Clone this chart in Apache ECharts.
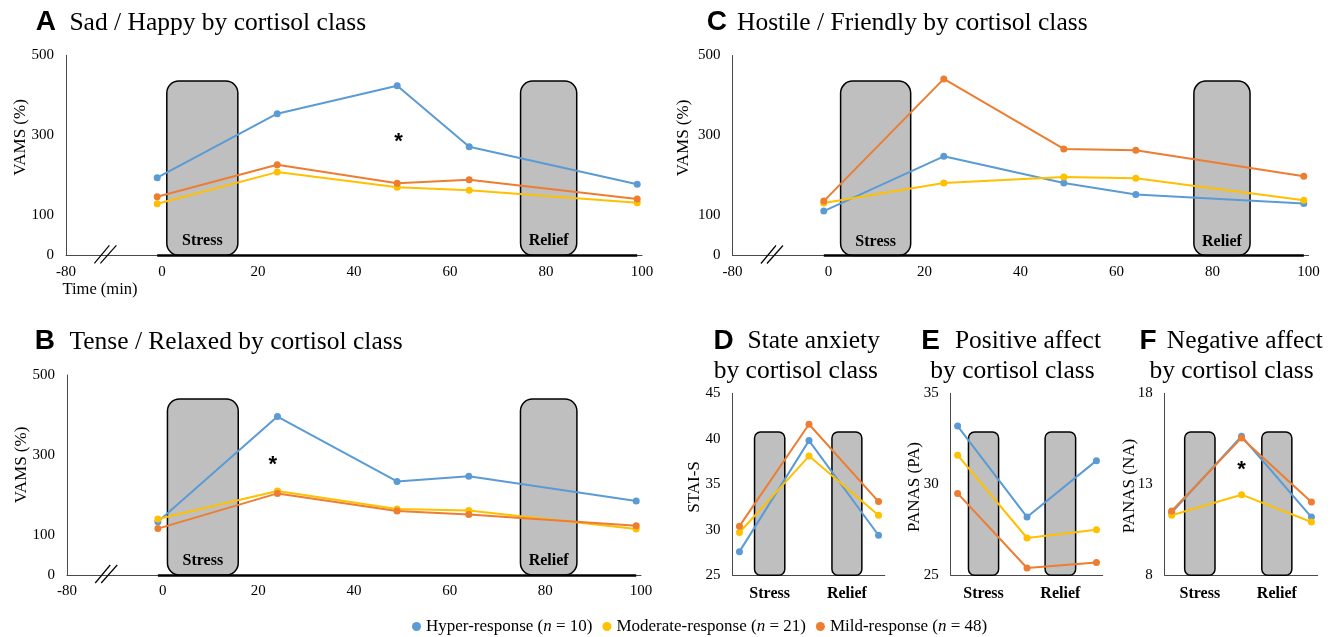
<!DOCTYPE html>
<html><head><meta charset="utf-8">
<script src="https://cdn.jsdelivr.net/npm/echarts/dist/echarts.min.js"></script>
<style>html,body{margin:0;padding:0;background:#fff}#c{width:1338px;height:637px}</style>
</head><body><div id="c"></div>
<script>
// ---------------- data ----------------
const seriesNames = ['Hyper-response', 'Moderate-response', 'Mild-response'];
const seriesN = [10, 21, 48];
const times = [-1, 24, 49, 64, 99];                 // minutes (VAMS panels)
const timeTicks = [-20, 0, 20, 40, 60, 80, 100];
const timeTickLabels = ['-80', '0', '20', '40', '60', '80', '100'];
const vamsTicks = [0, 100, 300, 500];
const timepoints = [0, 1, 2];                        // STAI / PANAS panels
const naTicks = [8, 13, 18];

// A: Sad / Happy
const sadHappyHyper = [194, 354, 424, 271.5, 177.5];
const sadHappyModerate = [129, 208, 170, 162.5, 131.5];
const sadHappyMild = [146.5, 226.5, 180, 189, 141];
// B: Tense / Relaxed
const tenseHyper = [133, 396, 234, 247, 185];
const tenseModerate = [140, 210, 165, 161.5, 115];
const tenseMild = [116, 204, 160, 151.5, 123];
// C: Hostile / Friendly
const hostileHyper = [111, 248, 181.5, 152.5, 130];
const hostileModerate = [131.5, 181.5, 196.5, 193, 138];
const hostileMild = [136, 441.5, 266.5, 263, 198];
// D: State anxiety (STAI-S)
const staiHyper = [27.6, 39.8, 29.4];
const staiModerate = [29.7, 38.1, 31.6];
const staiMild = [30.4, 41.6, 33.1];
// E: Positive affect
const paHyper = [33.2, 28.2, 31.3];
const paModerate = [31.6, 27.05, 27.5];
const paMild = [29.5, 25.4, 25.7];
// F: Negative affect
const naHyper = [11.45, 15.64, 11.2];
const naModerate = [11.3, 12.43, 10.93];
const naMild = [11.53, 15.55, 12.03];

// phase boxes: [start, end, top, bottom]
const boxLabels = ['Stress', 'Relief'];
const boxesA = [[1.0, 15.8, 436, 0], [74.7, 86.4, 436, 0]];
const boxesB = [[1.0, 15.8, 440, 0], [74.8, 86.6, 440, 0]];
const boxesC = [[2.5, 17.1, 436, 0], [76.1, 87.8, 436, 0]];
const boxesD = [[0.217, 0.652, 40.75, 25], [1.33, 1.76, 40.75, 25]];
const boxesE = [[0.156, 0.59, 32.87, 25], [1.26, 1.70, 32.87, 25]];
const boxesF = [[0.186, 0.62, 15.87, 8], [1.29, 1.72, 15.87, 8]];
const axisBreakAt = -11.8;
const starA = [49.3, 296];
const starB = [23, 287];
const starF = [1, 14.05];

// ---------------- chart ----------------
const colors = ['#5b9bd5', '#ffc000', '#ed7d31'];
const SERIF = 'Liberation Serif';
const SANS = 'Liberation Sans';

const chart = echarts.init(document.getElementById('c'), null, {renderer: 'canvas'});

const grids = [
  {left: 66, top: 55.3, width: 576, height: 200},     // A
  {left: 67, top: 375, width: 574, height: 200},      // B
  {left: 732.6, top: 55.5, width: 576, height: 200},  // C
  {left: 732.5, top: 393.3, width: 152.3, height: 182}, // D
  {left: 950.7, top: 393.3, width: 152, height: 182},   // E
  {left: 1164.7, top: 393.3, width: 153, height: 182}   // F
];

const axisLineStyle = {show: true, onZero: false, lineStyle: {color: '#4a4a4a', width: 1}};
const labelBase = {fontFamily: SERIF, fontSize: 15, color: '#000'};

const xAxes = [];
const yAxes = [];
for (let i = 0; i < 3; i++) {
  xAxes.push({type: 'value', gridIndex: i, min: -20, max: 100, interval: 20,
    axisLine: axisLineStyle, axisTick: {show: false}, splitLine: {show: false},
    axisLabel: Object.assign({margin: 9, formatter: v => timeTickLabels[timeTicks.indexOf(v)] || ''}, labelBase)});
  yAxes.push({type: 'value', gridIndex: i, min: 0, max: 500, interval: 100,
    axisLine: axisLineStyle, axisTick: {show: false}, splitLine: {show: false},
    axisLabel: Object.assign({margin: 12, formatter: v => vamsTicks.includes(v) ? String(v) : ''}, labelBase)});
}
for (let i = 3; i < 6; i++) {
  xAxes.push({type: 'value', gridIndex: i, min: -0.1, max: 2.09,
    axisLine: axisLineStyle, axisTick: {show: false}, splitLine: {show: false}, axisLabel: {show: false}});
}
yAxes.push({type: 'value', gridIndex: 3, min: 25, max: 45, interval: 5,
  axisLine: axisLineStyle, axisTick: {show: false}, splitLine: {show: false},
  axisLabel: Object.assign({margin: 12}, labelBase)});
yAxes.push({type: 'value', gridIndex: 4, min: 25, max: 35, interval: 5,
  axisLine: axisLineStyle, axisTick: {show: false}, splitLine: {show: false},
  axisLabel: Object.assign({margin: 12}, labelBase)});
yAxes.push({type: 'value', gridIndex: 5, min: 8, max: 18, interval: 1,
  axisLine: axisLineStyle, axisTick: {show: false}, splitLine: {show: false},
  axisLabel: Object.assign({margin: 12, formatter: v => naTicks.includes(v) ? String(v) : ''}, labelBase)});

const panels = [
  {x: times, sets: [sadHappyHyper, sadHappyModerate, sadHappyMild], boxes: boxesA, r: 12, inside: true},
  {x: times, sets: [tenseHyper, tenseModerate, tenseMild], boxes: boxesB, r: 12, inside: true},
  {x: times, sets: [hostileHyper, hostileModerate, hostileMild], boxes: boxesC, r: 12, inside: true},
  {x: timepoints, sets: [staiHyper, staiModerate, staiMild], boxes: boxesD, r: 6, inside: false},
  {x: timepoints, sets: [paHyper, paModerate, paMild], boxes: boxesE, r: 6, inside: false},
  {x: timepoints, sets: [naHyper, naModerate, naMild], boxes: boxesF, r: 6, inside: false}
];

function boxRenderer(radius, inside) {
  return function (params, api) {
    const p0 = api.coord([api.value(0), api.value(2)]);
    const p1 = api.coord([api.value(1), api.value(3)]);
    const cx = (p0[0] + p1[0]) / 2;
    return {type: 'group', children: [
      {type: 'rect', shape: {x: p0[0], y: p0[1], width: p1[0] - p0[0], height: p1[1] - p0[1], r: radius},
        style: {fill: '#bfbfbf', stroke: '#000', lineWidth: 1.5}},
      {type: 'text', x: cx, y: inside ? p1[1] - 14 : p1[1] + 19,
        style: {text: boxLabels[params.dataIndex], fontFamily: SERIF, fontWeight: 'bold', fontSize: 16,
          fill: '#000', align: 'center', verticalAlign: 'middle'}}
    ]};
  };
}
function breakRenderer(params, api) {
  const p = api.coord([api.value(0), api.value(1)]);
  const st = {stroke: '#000', lineWidth: 1.2};
  return {type: 'group', children: [
    {type: 'line', shape: {x1: p[0] - 11, y1: p[1] + 8, x2: p[0] + 4, y2: p[1] - 10}, style: st},
    {type: 'line', shape: {x1: p[0] - 5, y1: p[1] + 8, x2: p[0] + 11, y2: p[1] - 10}, style: st}
  ]};
}
function starRenderer(params, api) {
  const p = api.coord([api.value(0), api.value(1)]);
  return {type: 'text', x: p[0], y: p[1] + 5,
    style: {text: '*', fontFamily: SANS, fontWeight: 'bold', fontSize: 22, fill: '#000', align: 'center', verticalAlign: 'middle'}};
}

const series = [];
panels.forEach((pn, i) => {
  series.push({type: 'custom', xAxisIndex: i, yAxisIndex: i, clip: false, silent: true, z: 1,
    renderItem: boxRenderer(pn.r, pn.inside), data: pn.boxes});
  pn.sets.forEach((vals, j) => {
    const s = {type: 'line', name: seriesNames[j], xAxisIndex: i, yAxisIndex: i, z: 3 + j,
      data: pn.x.map((t, k) => [t, vals[k]]),
      color: colors[j], symbol: 'circle', symbolSize: 7, showSymbol: true,
      lineStyle: {width: 2, color: colors[j]}, itemStyle: {color: colors[j]}};
    if (i < 3 && j === 0) {
      s.markLine = {silent: true, symbol: ['none', 'none'], label: {show: false},
        lineStyle: {color: '#000', width: 2.5, type: 'solid'},
        data: [[{coord: [times[0], 0]}, {coord: [times[times.length - 1], 0]}]]};
    }
    series.push(s);
  });
  if (i < 3) {
    series.push({type: 'custom', xAxisIndex: i, yAxisIndex: i, clip: false, silent: true, z: 2,
      renderItem: breakRenderer, data: [[axisBreakAt, 0]]});
  }
});
[[0, starA], [1, starB], [5, starF]].forEach(([i, pt]) => {
  series.push({type: 'custom', xAxisIndex: i, yAxisIndex: i, clip: false, silent: true, z: 10,
    renderItem: starRenderer, data: [pt]});
});

function txt(text, x, y, opt) {
  return {type: 'text', x: x, y: y, rotation: (opt && opt.rot) || 0,
    style: Object.assign({text: text, fontFamily: SERIF, fontSize: 25.5, fill: '#000', align: 'left', verticalAlign: 'middle'}, opt && opt.style)};
}
const letter = {fontFamily: SANS, fontWeight: 'bold', fontSize: 28};
const axisName = {fontSize: 17, align: 'center'};
const graphic = [
  txt('A', 35.8, 22, {style: letter}), txt('Sad / Happy by cortisol class', 69.4, 23.5),
  txt('B', 34.7, 341, {style: letter}), txt('Tense / Relaxed by cortisol class', 69.4, 342),
  txt('C', 706.7, 22.5, {style: letter}), txt('Hostile / Friendly by cortisol class', 737, 23.5),
  txt('D', 713.6, 341, {style: letter}), txt('State anxiety', 747.5, 341),
  txt('by cortisol class', 878, 371, {style: {align: 'right'}}),
  txt('E', 921.3, 341, {style: letter}), txt('Positive affect', 954.9, 341),
  txt('by cortisol class', 1094.6, 371, {style: {align: 'right'}}),
  txt('F', 1139.5, 341, {style: letter}), txt('Negative affect', 1166.8, 341),
  txt('by cortisol class', 1313.7, 371, {style: {align: 'right'}}),
  txt('VAMS (%)', 21, 137.5, {rot: Math.PI / 2, style: axisName}),
  txt('VAMS (%)', 21.5, 465, {rot: Math.PI / 2, style: axisName}),
  txt('VAMS (%)', 684, 138, {rot: Math.PI / 2, style: axisName}),
  txt('STAI-S', 695, 487, {rot: Math.PI / 2, style: axisName}),
  txt('PANAS (PA)', 915, 487, {rot: Math.PI / 2, style: axisName}),
  txt('PANAS (NA)', 1130, 486, {rot: Math.PI / 2, style: axisName}),
  txt('Time (min)', 100, 290, {style: {fontSize: 16.5, align: 'center'}})
];

chart.setOption({
  backgroundColor: '#fff',
  animation: false,
  grid: grids,
  xAxis: xAxes,
  yAxis: yAxes,
  legend: {
    data: seriesNames, left: 407, top: 613, icon: 'circle', itemWidth: 9, itemHeight: 9, itemGap: 10,
    selectedMode: false,
    formatter: name => {
      const j = seriesNames.indexOf(name);
      return '{a|' + name + ' (}{i|n}{a| = ' + seriesN[j] + ')}';
    },
    textStyle: {rich: {
      a: {fontFamily: SERIF, fontSize: 17, color: '#000'},
      i: {fontFamily: SERIF, fontSize: 17, fontStyle: 'italic', color: '#000'}
    }}
  },
  graphic: graphic,
  series: series
});
</script>
</body></html>
